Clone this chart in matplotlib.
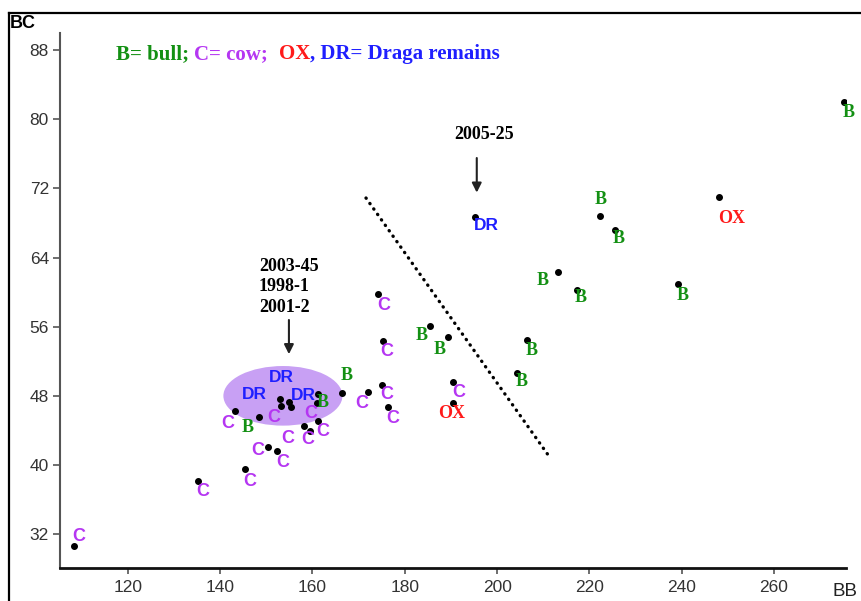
import numpy as np
import matplotlib.pyplot as plt
from matplotlib.patches import Ellipse
from matplotlib.lines import Line2D

# measurements: BB (x) vs BC (y), one entry per specimen
bb = [108.3, 135.2, 145.4, 150.3, 152.3, 143.2, 148.4,
      152.9, 154.9, 155.3, 153.2, 161.2, 161.0, 158.1, 159.4, 161.2,
      166.4, 172.0, 175.0, 176.3, 174.2, 175.3, 185.4, 189.3,
      190.4, 190.4, 206.5, 204.3, 195.2, 222.3, 225.5, 248.1,
      213.2, 217.3, 239.2, 275.1]
bc = [30.6, 38.1, 39.5, 42.1, 41.6, 46.2, 45.5,
      47.6, 47.3, 46.7, 46.8, 48.2, 47.2, 44.5, 43.9, 45.1,
      48.3, 48.4, 49.2, 46.7, 59.8, 54.3, 56.1, 54.8,
      49.6, 47.2, 54.5, 50.6, 68.7, 68.8, 67.2, 71.0,
      62.3, 60.3, 60.9, 82.0]
kind = ['C', 'C', 'C', 'C', 'C', 'C', 'B',
        'DR', 'DR', 'DR', 'C', 'B', 'C', 'C', 'C', 'C',
        'B', 'C', 'C', 'C', 'C', 'C', 'B', 'B',
        'C', 'OX', 'B', 'B', 'DR', 'B', 'B', 'OX',
        'B', 'B', 'B', 'B']
# where each letter sits relative to its dot (pixels, right / down)
label_offsets = [(5, -10), (5, 10), (5, 12), (-10, 4), (6, 11), (-7, 12), (-11, 10),
                 (-25, -5), (-8, -24), (13, -12), (-7, 11), (5, 8), (-6, 11), (-16, 12), (-2, 8), (5, 11),
                 (5, -18), (-6, 11), (5, 9), (5, 11), (6, 12), (4, 10), (-8, 10), (-8, 12),
                 (6, 10), (-1, 11), (5, 11), (5, 8), (11, 8), (1, -17), (4, 9), (13, 21),
                 (-15, 8), (4, 8), (5, 11), (5, 10)]

# dotted dividing line
trend_bb = [171.6, 211.0]
trend_bc = [70.9, 41.2]

# shaded group of Draga remains
group_center = (153.6, 48.0)
group_size = (25.8, 6.9)

# arrows: (text, text position, arrow tail, arrow tip)
note1_text = '2005-25'
note1_pos = (197.1, 78.3)
note1_arrow = [(195.6, 75.85), (195.6, 71.2)]
note2_text = '2003-45\n1998-1\n2001-2'
note2_pos = (148.4, 60.6)
note2_arrow = [(154.9, 57.1), (154.9, 52.5)]

x_ticks = [120, 140, 160, 180, 200, 220, 240, 260]
y_ticks = [32, 40, 48, 56, 64, 72, 80, 88]

COLORS = {'B': '#139013', 'C': '#b536f2', 'OX': '#ff1a1a', 'DR': '#1f1fff'}
FAMILY = {'B': 'Liberation Serif', 'C': 'Liberation Sans', 'OX': 'Liberation Serif', 'DR': 'Liberation Sans'}
SIZE = {'B': 13, 'C': 13, 'OX': 13, 'DR': 12.5}

fig = plt.figure(figsize=(8.62, 6.01), dpi=100)
ax = fig.add_axes([60 / 862, 1 - 568 / 601, 786 / 862, 535 / 601])
ax.set_xlim(105.3, 275.6)
ax.set_ylim(28.07, 90.0)

ax.add_patch(Ellipse(group_center, group_size[0], group_size[1],
                     facecolor='#c8a0f4', edgecolor='none', zorder=1))

ax.plot(trend_bb, trend_bc, color='k', lw=2.4, linestyle=(0, (0.1, 1.9)),
        dash_capstyle='round', zorder=2)

ax.scatter(bb, bc, s=16, c='k', zorder=3)

for x, y, k, (dx, dy) in zip(bb, bc, kind, label_offsets):
    ax.annotate(k, (x, y), xytext=(dx * 0.72, -dy * 0.72), textcoords='offset points',
                ha='center', va='center', color=COLORS[k], family=FAMILY[k],
                fontweight='bold', fontsize=SIZE[k], zorder=4)

# annotations with arrows
arrow_style = dict(arrowstyle='-|>', color='#222222', lw=1.5, mutation_scale=14)
ax.annotate('', xy=note1_arrow[1], xytext=note1_arrow[0], arrowprops=arrow_style)
ax.text(*note1_pos, note1_text, ha='center', va='center', family='Liberation Serif',
        fontweight='bold', fontsize=13)
ax.annotate('', xy=note2_arrow[1], xytext=note2_arrow[0], arrowprops=arrow_style)
ax.text(*note2_pos, note2_text, ha='left', va='center', family='Liberation Serif',
        fontweight='bold', fontsize=13, linespacing=1.3)

# axes styling
for s in ['top', 'right']:
    ax.spines[s].set_visible(False)
ax.spines['left'].set_color('#555555')
ax.spines['left'].set_linewidth(1.5)
ax.spines['bottom'].set_color('#111111')
ax.spines['bottom'].set_linewidth(2.0)
ax.set_xticks(x_ticks)
ax.set_yticks(y_ticks)
ax.tick_params(axis='y', length=5, width=1.2, color='#555555', pad=3,
               labelsize=12.5, labelcolor='#333333')
ax.tick_params(axis='x', length=4, width=1.2, color='#555555', pad=5,
               labelsize=12.5, labelcolor='#333333')
for lab in ax.get_xticklabels() + ax.get_yticklabels():
    lab.set_family('Liberation Sans')

# axis names
fig.text(10 / 862, 1 - 24 / 601, 'BC', ha='left', va='center', fontsize=13,
         fontweight='bold', family='Liberation Sans')
fig.text(845 / 862, 1 - 591 / 601, 'BB', ha='center', va='center', fontsize=13.5,
         family='Liberation Sans', color='#222222')

# coloured key line, pieces chained one after another
pieces = [('B= bull; ', COLORS['B']), ('C= cow;  ', COLORS['C']),
          ('OX', COLORS['OX']), (', DR= Draga remains', COLORS['DR'])]
prev = fig.text(116 / 862, 1 - 54 / 601, pieces[0][0], ha='left', va='center',
                color=pieces[0][1], fontsize=15, fontweight='bold', family='Liberation Serif')
for txt, col in pieces[1:]:
    prev = ax.annotate(txt, xy=(1, 0.5), xycoords=prev, ha='left', va='center', color=col,
                       fontsize=15, fontweight='bold', family='Liberation Serif',
                       annotation_clip=False)

# outer frame (top and left edges)
fig.add_artist(Line2D([9 / 862, 1], [1 - 13 / 601, 1 - 13 / 601], color='k', lw=1.6))
fig.add_artist(Line2D([9 / 862, 9 / 862], [0, 1 - 13 / 601], color='k', lw=1.6))

fig.savefig('out.png', dpi=100)
